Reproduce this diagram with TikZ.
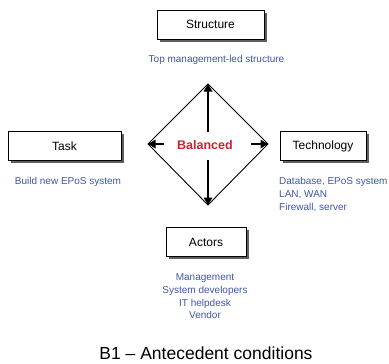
\documentclass[tikz,border=0pt]{standalone}
\usepackage{fontspec}
\setmainfont{Liberation Sans}
\usetikzlibrary{arrows.meta,shadows,calc}
\definecolor{noteblue}{RGB}{64,86,170}
\definecolor{balred}{RGB}{204,36,46}
\definecolor{shadowgray}{RGB}{95,95,95}
\begin{document}
\begin{tikzpicture}[x=1pt,y=-1pt,
  facet/.style={draw=black, line width=1pt, fill=white, minimum height=29pt,
    inner sep=0pt, font=\fontsize{12}{14}\selectfont,
    drop shadow={shadow xshift=2.5pt, shadow yshift=-2.5pt, fill=shadowgray, opacity=1}},
  note/.style={text=noteblue, font=\fontsize{10}{12.7}\selectfont, inner sep=0pt},
  edge/.style={line width=0.9pt, black},
  arr/.style={line width=1.7pt, -{Triangle[length=7.5pt,width=8.5pt]}}]
\useasboundingbox (0,0) rectangle (389,364);

% the four facet boxes
\node[facet, minimum width=107pt] (structure) at (210.5,24.5) {Structure};
\node[facet, minimum width=113pt] (task) at (64.5,146) {Task};
\node[facet, minimum width=86pt] (technology) at (323,146) {Technology};
\node[facet, minimum width=80pt] (actors) at (206,242) {Actors};

% notes under each box
\node[note] (structnote) at (216.5,60) {Top management-led structure};
\node[note] (tasknote) at (68,182) {Build new EPoS system};
\node[note, anchor=west, align=left] (technote) at (279,194.5)
  {Database, EPoS system\\LAN, WAN\\Firewall, server};
\node[note, align=center] (actornote) at (205,296.5)
  {Management\\System developers\\IT helpdesk\\Vendor};

% balance diamond
\coordinate (top) at (208,84);
\coordinate (right) at (268,144);
\coordinate (bottom) at (208,205);
\coordinate (left) at (148,144);
\coordinate (centre) at (208,144);
\draw[edge, line join=miter] (top) -- (right) -- (bottom) -- (left) -- cycle;

\node[text=balred, font=\fontsize{12.5}{14}\bfseries\selectfont, inner sep=0pt]
  (balanced) at (205,145) {Balanced};

% arrows pushing out to the corners
\draw[arr, shorten <=12pt] (centre) -- (top);
\draw[arr, shorten <=16pt] (centre) -- (bottom);
\draw[arr, shorten <=44pt] (centre) -- (left);
\draw[arr, shorten <=43pt] (centre) -- (right);

% caption
\node[font=\fontsize{17.5}{20}\selectfont, inner sep=0pt] (caption) at (206,353)
  {B1 -- Antecedent conditions};
\end{tikzpicture}
\end{document}
